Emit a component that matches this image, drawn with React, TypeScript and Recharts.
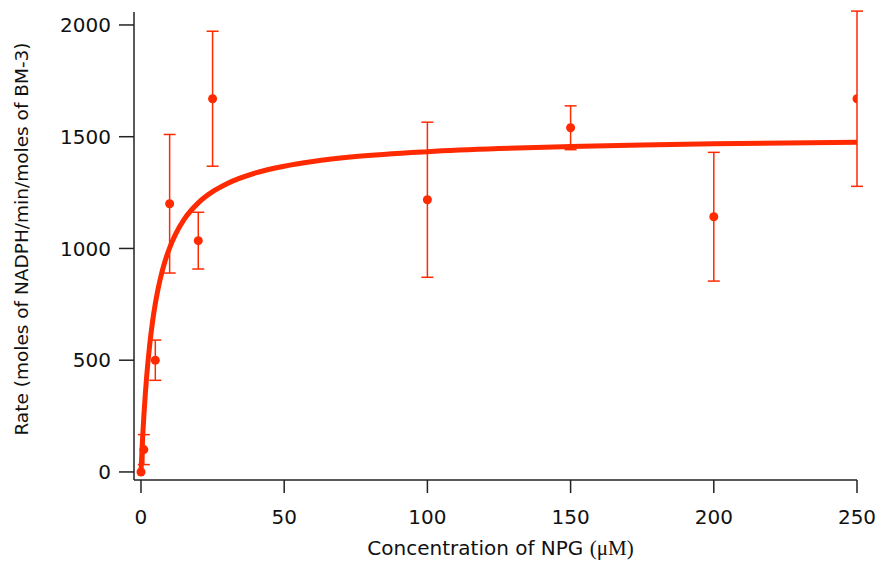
import { ComposedChart, Line, Scatter, ErrorBar, XAxis, YAxis } from "recharts";

// measured points (NPG concentration, uM) with std errors
const concentration = [0, 1, 5, 10, 20, 25, 100, 150, 200, 250];
const rate = [0, 100, 500, 1200, 1035, 1670, 1218, 1540, 1142, 1670];
const rateErr = [0, 67, 90, 310, 127, 302, 347, 98, 288, 392];

// fitted curve
const fitX = [0, 0.5, 1, 1.5, 2, 3, 4, 5, 6, 7, 8, 10, 12, 15, 20, 25, 30, 40, 50, 60, 75, 100, 125, 150, 175, 200, 225, 250];
const fitY = [0, 137, 251, 347, 430, 564, 669, 753, 821, 878, 926, 1003, 1062, 1129, 1204, 1254, 1290, 1338, 1368, 1389, 1411, 1433, 1447, 1456, 1463, 1468, 1472, 1475];

const xTicks = [0, 50, 100, 150, 200, 250];
const yTicks = [0, 500, 1000, 1500, 2000];

const points = concentration.map((x, i) => ({ x, y: rate[i], err: rateErr[i] }));
const fit = fitX.map((x, i) => ({ x, y: fitY[i] }));

const RED = "#ff2a00";
const FONT = "DejaVu Sans";

const XTitle = ({ viewBox }: any) => {
    const cx = viewBox.x + viewBox.width / 2 + 5;
    return (
        <text x={cx} y={555} textAnchor="middle" fontSize={20} fontFamily={FONT} fill="#111">
            Concentration of NPG <tspan fontFamily="Liberation Serif" fontSize={21}>(μM)</tspan>
        </text>
    );
};

const YTitle = () => (
    <text
        x={0}
        y={0}
        transform="translate(28, 239) rotate(-90)"
        textAnchor="middle"
        fontSize={18.5}
        fontFamily={FONT}
        fill="#111"
    >
        Rate (moles of NADPH/min/moles of BM-3)
    </text>
);

export default function App() {
    return (
        <div style={{ position: "absolute", left: 0, top: 0, width: 882, height: 563, background: "#fff" }}>
            <ComposedChart width={882} height={563} margin={{ top: 12, right: 25, bottom: 0, left: 0 }}>
                <XAxis
                    dataKey="x"
                    type="number"
                    domain={[-2.44, 250]}
                    ticks={xTicks}
                    allowDataOverflow
                    height={83}
                    tickSize={13}
                    tickMargin={17}
                    axisLine={{ stroke: "#222", strokeWidth: 1.5 }}
                    tickLine={{ stroke: "#222", strokeWidth: 1.5 }}
                    tick={{ fontSize: 20, fontFamily: FONT, fill: "#111" }}
                    label={<XTitle />}
                />
                <YAxis
                    dataKey="y"
                    type="number"
                    domain={[-36, 2058]}
                    ticks={yTicks}
                    allowDataOverflow
                    width={134}
                    tickSize={15}
                    tickMargin={8}
                    axisLine={{ stroke: "#222", strokeWidth: 1.5 }}
                    tickLine={{ stroke: "#222", strokeWidth: 1.5 }}
                    tick={{ fontSize: 20, fontFamily: FONT, fill: "#111" }}
                    label={<YTitle />}
                />
                <Line
                    data={fit}
                    dataKey="y"
                    type="monotone"
                    stroke={RED}
                    strokeWidth={5}
                    dot={false}
                    activeDot={false}
                    isAnimationActive={false}
                />
                <Scatter
                    data={points}
                    dataKey="y"
                    fill={RED}
                    isAnimationActive={false}
                    shape={(p: any) => <circle cx={p.cx} cy={p.cy} r={4.5} fill={RED} />}
                >
                    <ErrorBar dataKey="err" direction="y" width={6} stroke={RED} strokeWidth={1.5} isAnimationActive={false} />
                </Scatter>
            </ComposedChart>
        </div>
    );
}
